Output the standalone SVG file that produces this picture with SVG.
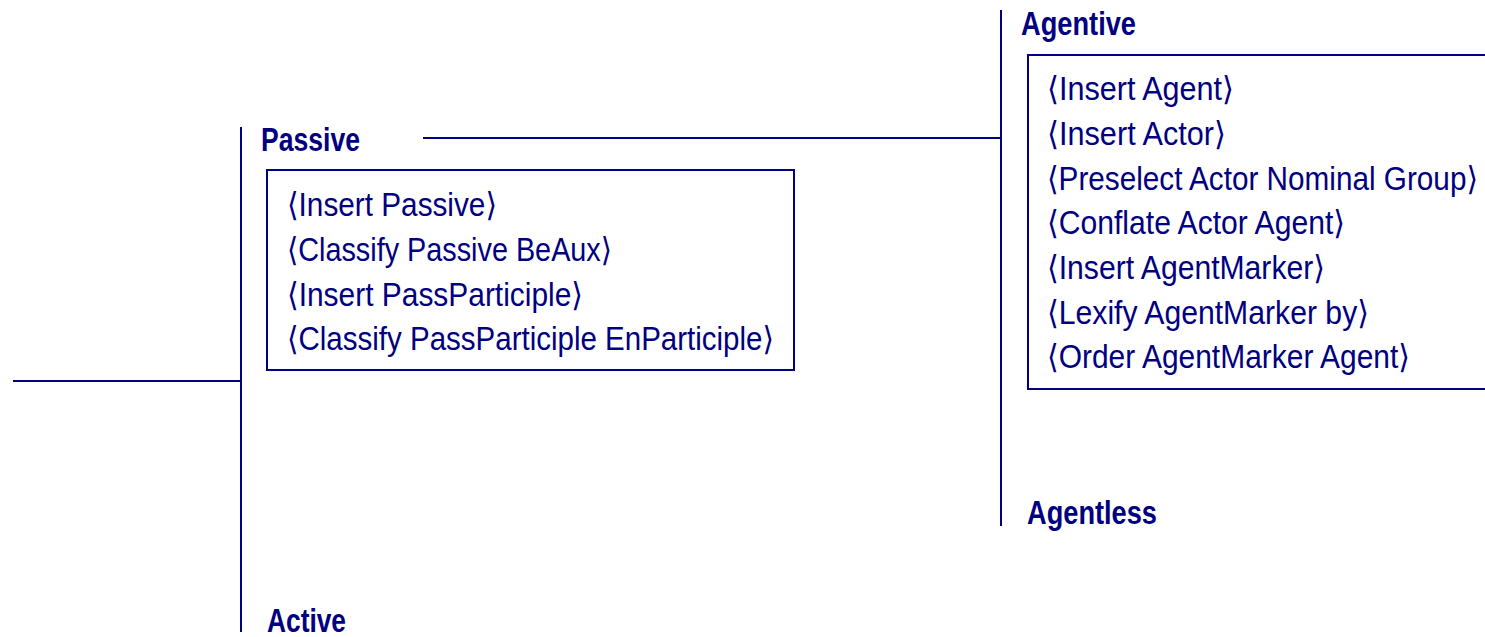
<svg xmlns="http://www.w3.org/2000/svg" width="1485" height="637" viewBox="0 0 1485 637">
<style>
.t{font-family:"Liberation Sans","DejaVu Sans",sans-serif;font-size:33px;fill:#000080}
.h{font-weight:bold;font-size:34px}
.ln{stroke:#000080;stroke-width:2;fill:none}
</style>
<rect width="1485" height="637" fill="#fff"/>
<g id="connectors">
<line class="ln" x1="13" y1="381" x2="241" y2="381"/>
<line class="ln" x1="241" y1="127" x2="241" y2="632"/>
<line class="ln" x1="423" y1="138" x2="1001" y2="138"/>
<line class="ln" x1="1001" y1="10" x2="1001" y2="526"/>
</g>
<g id="passive">
<text class="t h" x="261" y="151" textLength="99" lengthAdjust="spacingAndGlyphs">Passive</text>
<rect class="ln" x="267" y="170" width="527" height="200"/>
<text class="t" x="287" y="216" textLength="210" lengthAdjust="spacingAndGlyphs">⟨Insert Passive⟩</text>
<text class="t" x="287" y="261" textLength="325" lengthAdjust="spacingAndGlyphs">⟨Classify Passive BeAux⟩</text>
<text class="t" x="287" y="306" textLength="296" lengthAdjust="spacingAndGlyphs">⟨Insert PassParticiple⟩</text>
<text class="t" x="287" y="350" textLength="487" lengthAdjust="spacingAndGlyphs">⟨Classify PassParticiple EnParticiple⟩</text>
</g>
<g id="active">
<text class="t h" x="267" y="632" textLength="79" lengthAdjust="spacingAndGlyphs">Active</text>
</g>
<g id="agentive">
<text class="t h" x="1021" y="35" textLength="115" lengthAdjust="spacingAndGlyphs">Agentive</text>
<path class="ln" d="M1485 55 H1028 V389 H1485"/>
<text class="t" x="1047" y="100" textLength="187" lengthAdjust="spacingAndGlyphs">⟨Insert Agent⟩</text>
<text class="t" x="1047" y="145" textLength="179" lengthAdjust="spacingAndGlyphs">⟨Insert Actor⟩</text>
<text class="t" x="1047" y="190" textLength="431" lengthAdjust="spacingAndGlyphs">⟨Preselect Actor Nominal Group⟩</text>
<text class="t" x="1047" y="234" textLength="298" lengthAdjust="spacingAndGlyphs">⟨Conflate Actor Agent⟩</text>
<text class="t" x="1047" y="279" textLength="278" lengthAdjust="spacingAndGlyphs">⟨Insert AgentMarker⟩</text>
<text class="t" x="1047" y="324" textLength="322" lengthAdjust="spacingAndGlyphs">⟨Lexify AgentMarker by⟩</text>
<text class="t" x="1047" y="368" textLength="363" lengthAdjust="spacingAndGlyphs">⟨Order AgentMarker Agent⟩</text>
</g>
<g id="agentless">
<text class="t h" x="1027" y="524" textLength="130" lengthAdjust="spacingAndGlyphs">Agentless</text>
</g>
</svg>
